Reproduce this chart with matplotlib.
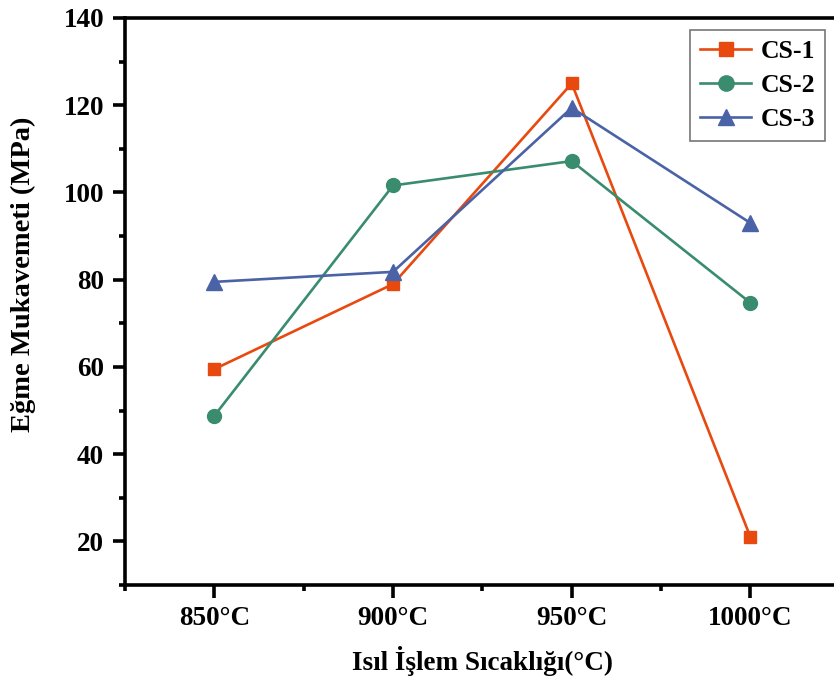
import matplotlib.pyplot as plt
from matplotlib.ticker import MultipleLocator

# Bending strength vs. heat treatment temperature
temps = ['850°C', '900°C', '950°C', '1000°C']
cs1 = [59.5, 79.0, 125.0, 21.0]
cs2 = [48.8, 101.6, 107.2, 74.7]
cs3 = [79.5, 81.8, 119.4, 93.0]

plt.rcParams['font.family'] = ['Liberation Serif', 'DejaVu Serif']
plt.rcParams['font.weight'] = 'bold'

fig = plt.figure(figsize=(8.34, 6.84), dpi=100)
ax = fig.add_axes([0.1499, 0.1447, 0.857, 0.829])

x = range(1, len(temps) + 1)
ax.plot(x, cs1, color='#E8490F', marker='s', markersize=9, lw=1.9, label='CS-1')
ax.plot(x, cs2, color='#3A8C6E', marker='o', markersize=10, lw=1.9, label='CS-2')
ax.plot(x, cs3, color='#4A62A6', marker='^', markersize=11, lw=1.9, label='CS-3')

ax.set_xlim(0.5, 4.5)
ax.set_ylim(10, 140)
ax.set_xticks(list(x))
ax.set_xticklabels(temps)
ax.xaxis.set_minor_locator(MultipleLocator(0.5))
ax.yaxis.set_minor_locator(MultipleLocator(10))
ax.set_yticks([20, 40, 60, 80, 100, 120, 140])

for s in ax.spines.values():
    s.set_linewidth(2.6)
ax.tick_params(which='major', direction='out', length=9, width=2.6,
               labelsize=19.5, pad=6)
ax.tick_params(which='minor', direction='out', length=4.5, width=2.6)
for lab in ax.get_xticklabels() + ax.get_yticklabels():
    lab.set_fontweight('bold')

ax.set_xlabel('Isıl İşlem Sıcaklığı(°C)', fontsize=19.5, fontweight='bold', labelpad=11)
ax.set_ylabel('Eğme Mukavemeti (MPa)', fontsize=20.5, fontweight='bold')
ax.yaxis.set_label_coords(-0.125, 0.548)

leg = ax.legend(loc='upper left', bbox_to_anchor=(0.79, 0.979), fontsize=18.5,
                frameon=True, fancybox=False, handlelength=2.0,
                borderpad=0.4, labelspacing=0.42, handletextpad=0.35,
                borderaxespad=0, markerscale=1.1)
leg.get_frame().set_edgecolor('#555555')
leg.get_frame().set_linewidth(1.2)
for t in leg.get_texts():
    t.set_fontweight('bold')

fig.savefig('out.png', dpi=100)
